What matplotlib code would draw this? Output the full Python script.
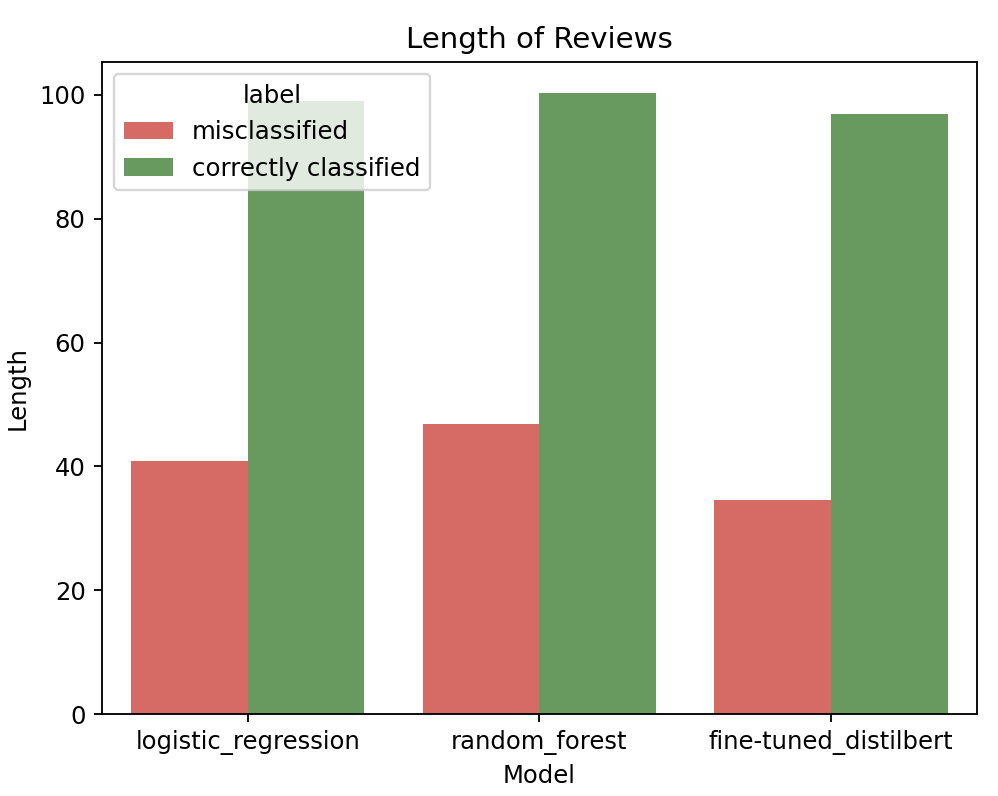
import matplotlib
matplotlib.use("Agg")
import matplotlib.pyplot as plt
import numpy as np

# bar heights
models = ["logistic_regression", "random_forest", "fine-tuned_distilbert"]
labels = ["misclassified", "correctly classified"]
misclassified = [40.8, 46.8, 34.6]
correct = [99.0, 100.3, 96.9]

colors = ["#d66a64", "#68995f"]

plt.rcParams["font.size"] = 10.5

fig = plt.figure(figsize=(998 / 166, 796 / 166), dpi=166)
ax = fig.add_axes([0.102, 0.103, 0.877, 0.819])

x = np.arange(len(models))
w = 0.4
ax.bar(x - w / 2, misclassified, w, color=colors[0], label=labels[0], linewidth=0)
ax.bar(x + w / 2, correct, w, color=colors[1], label=labels[1], linewidth=0)

ax.set_xticks(x)
ax.set_xticklabels(models)
ax.set_xlim(-0.5, len(models) - 0.5)
ax.set_xlabel("Model")
ax.set_ylabel("Length")
ax.set_title("Length of Reviews", fontsize=12.7)
ax.legend(title="label", loc="upper left", fontsize=10.6, title_fontsize=10.6)

fig.savefig("out.png", dpi=166)
